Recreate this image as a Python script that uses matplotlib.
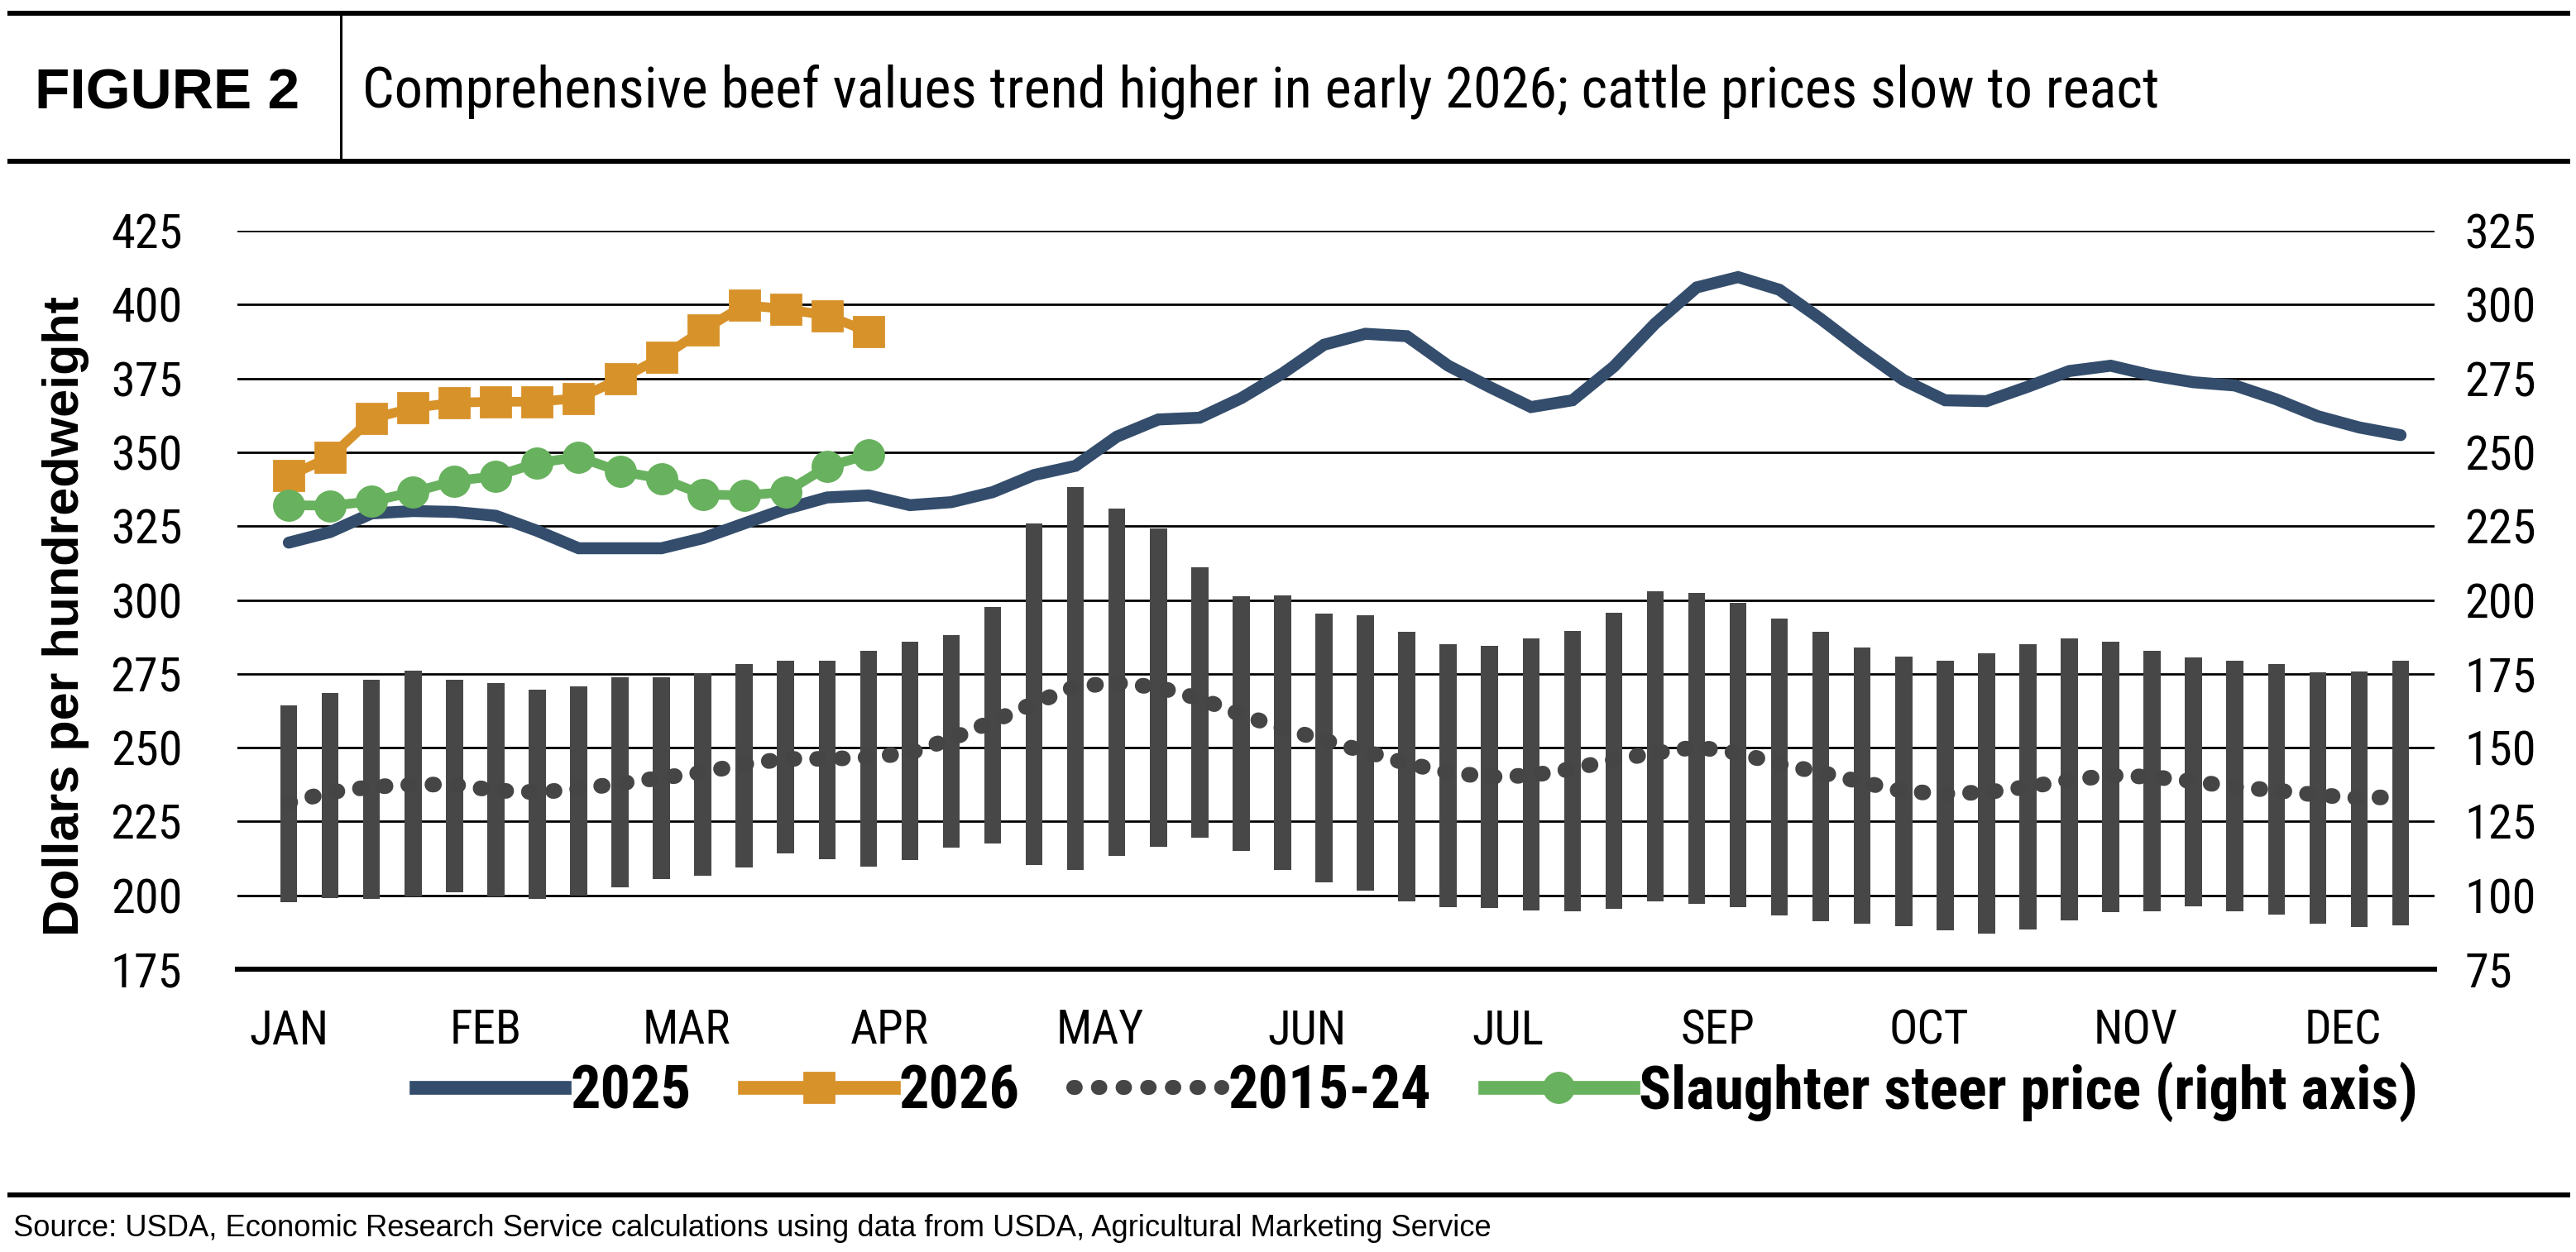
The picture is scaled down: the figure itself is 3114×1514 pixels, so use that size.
import os
import matplotlib
matplotlib.use("Agg")
import matplotlib.pyplot as plt
from matplotlib import font_manager as fm
from matplotlib.lines import Line2D
import numpy as np

# ---- data (weekly, 52 weeks) ----
RANGE_HIGH = [264.4, 268.6, 273.0, 276.0, 273.0, 271.9, 269.6, 270.7, 273.9, 273.9, 275.1, 278.3, 279.4,
              279.3, 282.8, 286.0, 288.1, 297.6, 325.8, 338.2, 330.8, 324.3, 311.1, 301.3, 301.5, 295.5,
              294.7, 289.2, 284.9, 284.6, 287.1, 289.4, 295.6, 303.0, 302.4, 299.0, 293.6, 289.2, 283.8,
              280.9, 279.4, 281.9, 284.9, 287.1, 286.0, 282.8, 280.6, 279.4, 278.3, 275.4, 275.7, 279.4]
RANGE_LOW = [197.7, 199.2, 198.9, 199.5, 201.1, 199.5, 198.9, 200.0, 202.6, 205.4, 206.6, 209.5, 214.1,
             212.1, 209.6, 211.9, 216.2, 217.6, 210.3, 208.7, 213.3, 216.4, 219.6, 215.0, 208.7, 204.3,
             201.5, 198.0, 195.9, 195.6, 194.9, 194.6, 195.4, 198.0, 197.2, 195.9, 193.1, 191.3, 190.4,
             189.6, 188.1, 186.9, 188.3, 191.4, 194.3, 194.5, 196.2, 194.6, 193.6, 190.5, 189.3, 189.7]
AVG_2015_24 = [231.4, 234.9, 236.7, 237.5, 237.5, 235.5, 234.9, 236.0, 237.9, 239.8, 241.6, 244.4, 246.2,
               246.2, 246.7, 248.2, 253.0, 258.9, 265.0, 270.7, 271.9, 270.4, 266.6, 261.2, 256.6, 252.5,
               248.7, 244.7, 241.6, 240.1, 240.6, 242.8, 245.9, 248.2, 250.2, 248.2, 244.4, 241.6, 238.3,
               235.2, 234.4, 234.9, 236.7, 239.0, 240.6, 240.1, 238.6, 236.7, 235.5, 234.0, 232.9, 233.4]
Y2025 = [319.4, 323.0, 329.3, 330.1, 329.8, 328.5, 323.4, 317.5, 317.5, 317.5, 320.9, 325.9, 330.8,
         334.7, 335.4, 332.1, 333.1, 336.5, 342.3, 345.4, 355.3, 361.1, 361.7, 368.3, 376.7, 386.4,
         390.1, 389.3, 379.3, 372.1, 365.3, 367.6, 379.0, 393.6, 405.8, 409.3, 405.0, 395.1, 384.4,
         374.4, 367.6, 367.3, 372.2, 377.5, 379.3, 376.0, 373.7, 372.6, 367.9, 362.2, 358.4, 355.8]
Y2026 = [342.0, 348.4, 361.4, 365.0, 366.8, 367.1, 367.1, 368.3, 374.8, 382.1, 391.3, 399.8, 398.5,
         396.3, 390.8]
STEER = [232.1, 231.9, 233.4, 236.5, 240.3, 241.9, 246.4, 248.4, 243.5, 241.1, 235.7, 235.4, 236.5,
         245.1, 249.2]   # right axis

MONTHS = ["JAN", "FEB", "MAR", "APR", "MAY", "JUN", "JUL", "SEP", "OCT", "NOV", "DEC"]
MONTH_POS = [0, 4.75, 9.6, 14.5, 19.6, 24.6, 29.45, 34.5, 39.6, 44.6, 49.6]

C2025, C2026, CAVG, CSTEER, CBAR = "#344D6C", "#D8922A", "#454545", "#68B15E", "#474747"


def find_font(bold):
    # look for an installed condensed / narrow sans face
    order = ["robotocondensed", "liberationsansnarrow", "notosans-condensed", "dejavusanscondensed",
             "opensanscondensed", "opensans_condensed", "arialnarrow"]
    bad = ["italic", "oblique", "light", "thin", "medium", "black", "semi", "extra"]
    files = [f.fname for f in fm.fontManager.ttflist]
    for key in order:
        for fn in files:
            b = os.path.basename(fn).lower()
            if not b.startswith(key) or any(k in b for k in bad):
                continue
            if bold == ("bold" in b):
                return fn
    return None


COND_R = find_font(False)
COND_B = find_font(True)


def cprop(size, bold=False):
    fn = COND_B if bold else COND_R
    if fn:
        return fm.FontProperties(fname=fn, size=size)
    return fm.FontProperties(family="Liberation Sans", size=size * 0.85, weight="bold" if bold else "normal")


def aprop(size, bold=False):
    return fm.FontProperties(family="Liberation Sans", size=size, weight="bold" if bold else "normal")


W, H = 3114, 1514
fig = plt.figure(figsize=(W / 200, H / 200), dpi=200)
ax = fig.add_axes([287 / W, 1 - 1172 / H, 2656 / W, 893 / H])
ax2 = ax.twinx()

x = np.arange(len(Y2025))
lo = np.array(RANGE_LOW); hi = np.array(RANGE_HIGH)
ax.bar(x, hi - lo, bottom=lo, width=0.41, color=CBAR, zorder=2)
ax.plot(x, AVG_2015_24, color=CAVG, lw=6.8, linestyle=(0, (0.1, 1.45)), dash_capstyle="round", zorder=3)
ax.plot(x, Y2025, color=C2025, lw=5.2, solid_capstyle="round", solid_joinstyle="miter", zorder=4)
x26 = np.arange(len(Y2026))
ax.plot(x26, Y2026, color=C2026, lw=4.2, marker="s", ms=13, zorder=5)
ax2.plot(x26, STEER, color=CSTEER, lw=4.2, marker="o", ms=13, zorder=5)

ax.set_xlim(-1.24, 51.82)
ax.set_ylim(175, 425); ax2.set_ylim(75, 325)
ax.set_yticks(np.arange(175, 426, 25)); ax2.set_yticks(np.arange(75, 326, 25))
ax.grid(axis="y", color="black", lw=1.0); ax.set_axisbelow(True)
for a in (ax, ax2):
    for s in a.spines.values():
        s.set_visible(False)
ax.spines["bottom"].set_visible(True); ax.spines["bottom"].set_linewidth(2.2)
ax.spines["bottom"].set_zorder(1)
ax.tick_params(axis="y", length=0, pad=24)
ax2.tick_params(axis="y", length=0, pad=13)
ax.set_xticks(MONTH_POS); ax.set_xticklabels(MONTHS)
ax.tick_params(axis="x", length=0, pad=17)
for t in ax.get_yticklabels() + ax2.get_yticklabels():
    t.set_fontproperties(cprop(21))
for t in ax.get_xticklabels():
    t.set_fontproperties(cprop(20.6))

fig.text(80 / W, 1 - 745 / H, "Dollars per hundredweight", rotation=90, ha="center", va="center",
         fontproperties=aprop(22, True))

# header / footer rules
def hline(y, x0=12, x1=3104, lw=2.16):
    fig.add_artist(Line2D([x0 / W, x1 / W], [1 - y / H] * 2, color="black", lw=lw))
hline(16); hline(195); hline(1445)
fig.add_artist(Line2D([412 / W] * 2, [1 - 19 / H, 1 - 192 / H], color="black", lw=1.1))
fig.text(42 / W, 1 - 132 / H, "FIGURE 2", fontproperties=aprop(25, True), va="baseline")
fig.text(438 / W, 1 - 130 / H,
         "Comprehensive beef values trend higher in early 2026; cattle prices slow to react",
         fontproperties=cprop(24.6), va="baseline")
fig.text(16 / W, 1 - 1495 / H,
         "Source: USDA, Economic Research Service calculations using data from USDA, Agricultural Marketing Service",
         fontproperties=aprop(13.1), va="baseline")

handles = [Line2D([], [], color=C2025, lw=6),
           Line2D([], [], color=C2026, lw=6, marker="s", ms=13),
           Line2D([], [], color=CAVG, lw=6.5, linestyle=(0, (0.1, 1.55)), dash_capstyle="round"),
           Line2D([], [], color=CSTEER, lw=6, marker="o", ms=13)]
labels = ["2025", "2026", "2015-24", "Slaughter steer price (right axis)"]
fig.legend(handles, labels, loc="center", bbox_to_anchor=(1713 / W, 1 - 1320 / H), ncol=4, frameon=False,
           prop=cprop(26, True), handlelength=2.48, handletextpad=0.1,
           columnspacing=0.9, borderpad=0)

fig.savefig("out.png", dpi=200)
